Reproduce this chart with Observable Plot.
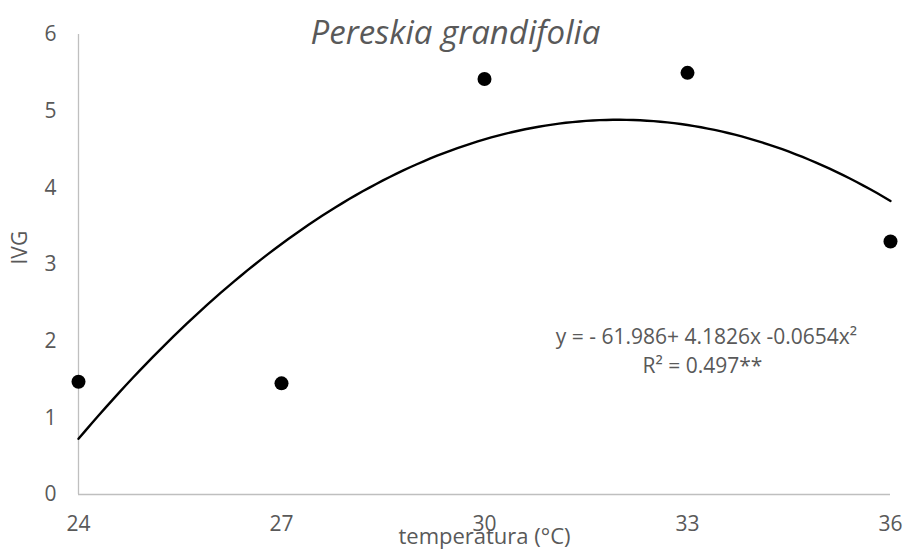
<!DOCTYPE html>
<html>
<head>
<meta charset="utf-8">
<script src="https://cdn.jsdelivr.net/npm/d3@7"></script>
<script src="https://cdn.jsdelivr.net/npm/@observablehq/plot@0.6"></script>
<style>
  html, body { margin: 0; padding: 0; background: #fff; }
  #chart svg { display: block; }
</style>
</head>
<body>
<div id="chart"></div>
<script>
// Germination speed index (IVG) by temperature
const temperatures = [24, 27, 30, 33, 36];
const ivg = [1.47, 1.45, 5.42, 5.50, 3.30];

// Quadratic fit: y = c0 + c1*x + c2*x^2
const coefficients = [-61.986, 4.1826, -0.0654];
const equationLines = ["y = - 61.986+ 4.1826x -0.0654x²", "R² = 0.497**"];
const xTicks = [24, 27, 30, 33, 36];
const yTicks = [0, 1, 2, 3, 4, 5, 6];

const points = temperatures.map((t, i) => ({t, v: ivg[i]}));
const curve = d3.range(24, 36.0001, 0.1).map(t => ({
  t, v: coefficients[0] + coefficients[1] * t + coefficients[2] * t * t
}));

const font = "'Open Sans', 'Liberation Sans', sans-serif";
const grey = "#595959";

const chart = Plot.plot({
  width: 904,
  height: 554,
  marginLeft: 78,
  marginRight: 14,
  marginTop: 34,
  marginBottom: 60,
  style: {fontFamily: font, fontSize: "21px", color: grey, background: "#fff", overflow: "visible"},
  x: {domain: [24, 36], ticks: xTicks, label: null},
  y: {domain: [0, 6], ticks: yTicks, label: null},
  marks: [
    Plot.ruleX([24], {y1: 0, y2: 6, stroke: "#bfbfbf", strokeWidth: 1.3}),
    Plot.ruleY([0], {x1: 24, x2: 36, stroke: "#bfbfbf", strokeWidth: 1.3}),
    Plot.axisX({ticks: xTicks, tickSize: 0, tickPadding: 22, fill: grey, fontSize: 21, label: null}),
    Plot.axisY({ticks: yTicks, tickSize: 0, tickPadding: 22, fill: grey, fontSize: 21, tickFormat: d3.format("d"), label: null}),
    Plot.line(curve, {x: "t", y: "v", stroke: "#000", strokeWidth: 2.4, curve: "linear"}),
    Plot.dot(points, {x: "t", y: "v", r: 7, fill: "#000", stroke: "none"}),
    Plot.text(equationLines, {
      x: [33.28, 33.22], y: [2.05, 1.67], text: d => d,
      fill: grey, fontSize: 21, textAnchor: "middle"
    }),
    Plot.text(["Pereskia grandifolia"], {
      frameAnchor: "top", dx: -29, dy: -14,
      fontSize: 33, fontStyle: "italic", fill: grey
    }),
    Plot.text(["temperatura (°C)"], {
      frameAnchor: "bottom", dy: 49,
      fontSize: 22, fill: grey
    }),
    Plot.text(["IVG"], {
      frameAnchor: "left", dx: -58, rotate: -90,
      fontSize: 21, fill: grey
    })
  ]
});

document.getElementById("chart").append(chart);
</script>
</body>
</html>
